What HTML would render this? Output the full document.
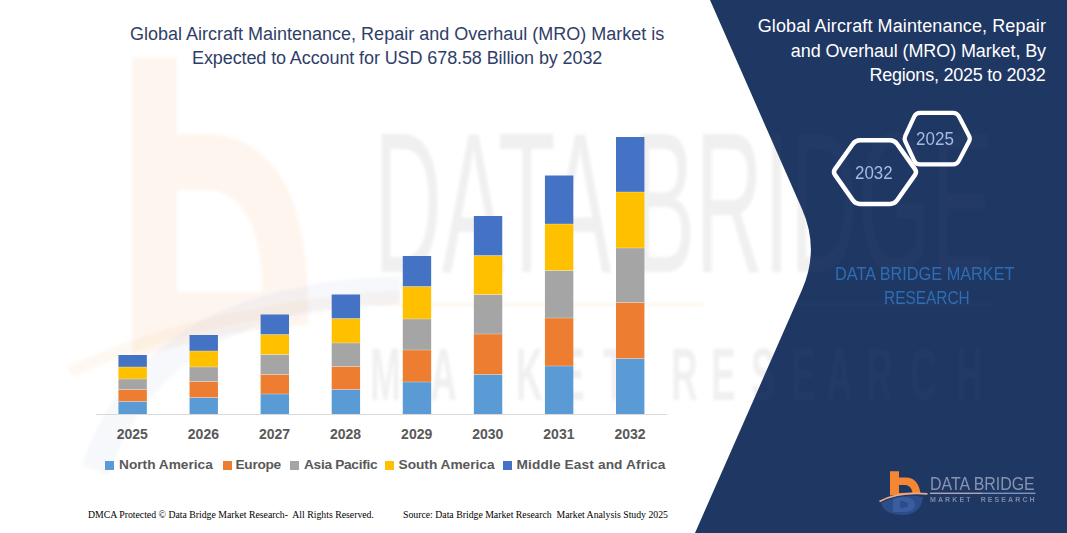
<!DOCTYPE html>
<html><head><meta charset="utf-8">
<style>
html,body{margin:0;padding:0;}
body{width:1067px;height:533px;position:relative;overflow:hidden;background:#fff;font-family:"Liberation Sans",sans-serif;}
.t{position:absolute;white-space:nowrap;line-height:1;}
svg{position:absolute;left:0;top:0;}
.yr{width:80px;text-align:center;font-size:14px;font-weight:bold;color:#595959;}
.lg{font-size:13.7px;font-weight:bold;color:#595959;}
</style></head><body>
<svg width="1067" height="533" viewBox="0 0 1067 533">
  <!-- watermark -->
  <defs><filter id="bl" x="-5%" y="-5%" width="110%" height="110%"><feGaussianBlur stdDeviation="1.5"/></filter></defs>
  <g filter="url(#bl)">
    <path d="M132 58 L177 58 L177 134 L212 134 Q298 142 307 275 L309 325 Q220 330 132 360 Z M177 190 L212 190 Q256 198 262 275 L262 292 L177 292 Z" fill="#ED7D31" fill-opacity="0.068" fill-rule="evenodd"/>
    <path d="M95 470 Q140 340 280 305 Q340 292 400 290" fill="none" stroke="#4472C4" stroke-opacity="0.05" stroke-width="28"/>
    <path d="M70 372 Q200 310 400 296" fill="none" stroke="#ED7D31" stroke-opacity="0.05" stroke-width="12"/>
    <rect x="374" y="303" width="330" height="3" fill="#ED7D31" fill-opacity="0.07"/>
    <text x="374" y="272" font-family="Liberation Sans" font-size="201" textLength="620" lengthAdjust="spacingAndGlyphs" fill="#000" fill-opacity="0.058">DATA BRIDGE</text>
    <text transform="scale(0.5 1)" x="740 860 948 1032 1120 1206 1342 1422 1502 1582 1652 1732 1820 1912" y="400" font-family="Liberation Sans" font-weight="bold" font-size="74" fill="#000" fill-opacity="0.06">MARKETRESEARCH</text>
  </g>
  <!-- navy panel -->
  <path d="M710 0 L1067 0 L1067 533 L695 533 L801.9 290 Q819.8 249.4 802 209 Z" fill="#1F3763"/>

  <!-- navy watermark overlay -->
  <clipPath id="pc"><path d="M710 0 L1067 0 L1067 533 L695 533 L801.9 290 Q819.8 249.4 802 209 Z"/></clipPath>
  <g clip-path="url(#pc)" filter="url(#bl)">
    <text x="374" y="272" font-family="Liberation Sans" font-size="201" textLength="620" lengthAdjust="spacingAndGlyphs" fill="#fff" fill-opacity="0.02">DATA BRIDGE</text>
    <text transform="scale(0.5 1)" x="740 860 948 1032 1120 1206 1342 1422 1502 1582 1652 1732 1820 1912" y="400" font-family="Liberation Sans" font-weight="bold" font-size="74" fill="#fff" fill-opacity="0.02">MARKETRESEARCH</text>
    <rect x="700" y="303" width="294" height="3" fill="#fff" fill-opacity="0.02"/>
  </g>
  <!-- axis -->
  <rect x="96" y="414" width="571" height="1" fill="#D9D9D9"/>
  <!-- bars -->
  <g id="bars">
<rect x="118.45" y="401.5" width="28.4" height="12.5" fill="#5B9BD5"/>
<rect x="118.45" y="389.5" width="28.4" height="12.0" fill="#ED7D31"/>
<rect x="118.45" y="379.0" width="28.4" height="10.5" fill="#A5A5A5"/>
<rect x="118.45" y="367.0" width="28.4" height="12.0" fill="#FFC000"/>
<rect x="118.45" y="355.0" width="28.4" height="12.0" fill="#4472C4"/>
<rect x="189.53" y="397.5" width="28.4" height="16.5" fill="#5B9BD5"/>
<rect x="189.53" y="381.5" width="28.4" height="16.0" fill="#ED7D31"/>
<rect x="189.53" y="367.0" width="28.4" height="14.5" fill="#A5A5A5"/>
<rect x="189.53" y="351.0" width="28.4" height="16.0" fill="#FFC000"/>
<rect x="189.53" y="335.0" width="28.4" height="16.0" fill="#4472C4"/>
<rect x="260.61" y="394.0" width="28.4" height="20.0" fill="#5B9BD5"/>
<rect x="260.61" y="374.5" width="28.4" height="19.5" fill="#ED7D31"/>
<rect x="260.61" y="354.5" width="28.4" height="20.0" fill="#A5A5A5"/>
<rect x="260.61" y="334.5" width="28.4" height="20.0" fill="#FFC000"/>
<rect x="260.61" y="314.5" width="28.4" height="20.0" fill="#4472C4"/>
<rect x="331.69" y="389.5" width="28.4" height="24.5" fill="#5B9BD5"/>
<rect x="331.69" y="366.5" width="28.4" height="23.0" fill="#ED7D31"/>
<rect x="331.69" y="343.0" width="28.4" height="23.5" fill="#A5A5A5"/>
<rect x="331.69" y="318.5" width="28.4" height="24.5" fill="#FFC000"/>
<rect x="331.69" y="294.5" width="28.4" height="24.0" fill="#4472C4"/>
<rect x="402.77" y="382.0" width="28.4" height="32.0" fill="#5B9BD5"/>
<rect x="402.77" y="350.0" width="28.4" height="32.0" fill="#ED7D31"/>
<rect x="402.77" y="319.0" width="28.4" height="31.0" fill="#A5A5A5"/>
<rect x="402.77" y="286.5" width="28.4" height="32.5" fill="#FFC000"/>
<rect x="402.77" y="256.0" width="28.4" height="30.5" fill="#4472C4"/>
<rect x="473.85" y="374.5" width="28.4" height="39.5" fill="#5B9BD5"/>
<rect x="473.85" y="334.0" width="28.4" height="40.5" fill="#ED7D31"/>
<rect x="473.85" y="294.5" width="28.4" height="39.5" fill="#A5A5A5"/>
<rect x="473.85" y="255.5" width="28.4" height="39.0" fill="#FFC000"/>
<rect x="473.85" y="216.0" width="28.4" height="39.5" fill="#4472C4"/>
<rect x="544.93" y="366.0" width="28.4" height="48.0" fill="#5B9BD5"/>
<rect x="544.93" y="318.0" width="28.4" height="48.0" fill="#ED7D31"/>
<rect x="544.93" y="270.5" width="28.4" height="47.5" fill="#A5A5A5"/>
<rect x="544.93" y="224.0" width="28.4" height="46.5" fill="#FFC000"/>
<rect x="544.93" y="175.5" width="28.4" height="48.5" fill="#4472C4"/>
<rect x="616.01" y="358.5" width="28.4" height="55.5" fill="#5B9BD5"/>
<rect x="616.01" y="302.5" width="28.4" height="56.0" fill="#ED7D31"/>
<rect x="616.01" y="248.0" width="28.4" height="54.5" fill="#A5A5A5"/>
<rect x="616.01" y="192.0" width="28.4" height="56.0" fill="#FFC000"/>
<rect x="616.01" y="137.0" width="28.4" height="55.0" fill="#4472C4"/>
<rect x="118.45" y="401.0" width="28.4" height="1" fill="#fff" fill-opacity="0.3"/>
<rect x="118.45" y="389.0" width="28.4" height="1" fill="#fff" fill-opacity="0.3"/>
<rect x="118.45" y="378.5" width="28.4" height="1" fill="#fff" fill-opacity="0.3"/>
<rect x="118.45" y="366.5" width="28.4" height="1" fill="#fff" fill-opacity="0.3"/>
<rect x="189.53" y="397.0" width="28.4" height="1" fill="#fff" fill-opacity="0.3"/>
<rect x="189.53" y="381.0" width="28.4" height="1" fill="#fff" fill-opacity="0.3"/>
<rect x="189.53" y="366.5" width="28.4" height="1" fill="#fff" fill-opacity="0.3"/>
<rect x="189.53" y="350.5" width="28.4" height="1" fill="#fff" fill-opacity="0.3"/>
<rect x="260.61" y="393.5" width="28.4" height="1" fill="#fff" fill-opacity="0.3"/>
<rect x="260.61" y="374.0" width="28.4" height="1" fill="#fff" fill-opacity="0.3"/>
<rect x="260.61" y="354.0" width="28.4" height="1" fill="#fff" fill-opacity="0.3"/>
<rect x="260.61" y="334.0" width="28.4" height="1" fill="#fff" fill-opacity="0.3"/>
<rect x="331.69" y="389.0" width="28.4" height="1" fill="#fff" fill-opacity="0.3"/>
<rect x="331.69" y="366.0" width="28.4" height="1" fill="#fff" fill-opacity="0.3"/>
<rect x="331.69" y="342.5" width="28.4" height="1" fill="#fff" fill-opacity="0.3"/>
<rect x="331.69" y="318.0" width="28.4" height="1" fill="#fff" fill-opacity="0.3"/>
<rect x="402.77" y="381.5" width="28.4" height="1" fill="#fff" fill-opacity="0.3"/>
<rect x="402.77" y="349.5" width="28.4" height="1" fill="#fff" fill-opacity="0.3"/>
<rect x="402.77" y="318.5" width="28.4" height="1" fill="#fff" fill-opacity="0.3"/>
<rect x="402.77" y="286.0" width="28.4" height="1" fill="#fff" fill-opacity="0.3"/>
<rect x="473.85" y="374.0" width="28.4" height="1" fill="#fff" fill-opacity="0.3"/>
<rect x="473.85" y="333.5" width="28.4" height="1" fill="#fff" fill-opacity="0.3"/>
<rect x="473.85" y="294.0" width="28.4" height="1" fill="#fff" fill-opacity="0.3"/>
<rect x="473.85" y="255.0" width="28.4" height="1" fill="#fff" fill-opacity="0.3"/>
<rect x="544.93" y="365.5" width="28.4" height="1" fill="#fff" fill-opacity="0.3"/>
<rect x="544.93" y="317.5" width="28.4" height="1" fill="#fff" fill-opacity="0.3"/>
<rect x="544.93" y="270.0" width="28.4" height="1" fill="#fff" fill-opacity="0.3"/>
<rect x="544.93" y="223.5" width="28.4" height="1" fill="#fff" fill-opacity="0.3"/>
<rect x="616.01" y="358.0" width="28.4" height="1" fill="#fff" fill-opacity="0.3"/>
<rect x="616.01" y="302.0" width="28.4" height="1" fill="#fff" fill-opacity="0.3"/>
<rect x="616.01" y="247.5" width="28.4" height="1" fill="#fff" fill-opacity="0.3"/>
<rect x="616.01" y="191.5" width="28.4" height="1" fill="#fff" fill-opacity="0.3"/>

</g>
  
  <!-- small logo -->
  <g id="logo">
    <path d="M881 503 Q884 515 903 515 Q921 514.5 923 497 Q902 493 881 503 Z" fill="#2D4F8E" opacity="0.9"/>
    <path d="M893 499 L900 497 L900 512 L893 512 Z M900 497 Q915 496 915 505 Q915 512 902 512 L900 512 L900 508 Q908 508 908 504.5 Q908 501 900 501 Z" fill="#4570B5" opacity="0.5"/>
    <path d="M890 471.3 L899 471.3 L899 477.5 L906 477.5 Q918 477.5 920.5 493.5 L890 495.5 Z M899 485 L899 493 L912.5 492.5 Q911 485 905 485 Z" fill="#F58634" fill-rule="evenodd"/>
    <path d="M879.5 501.5 Q898 491.5 927.5 493.8" fill="none" stroke="#E9A88A" stroke-width="1.8"/>
    <rect x="930" y="492.6" width="52" height="1.4" fill="#B7A3B5"/>
    <rect x="982" y="492.6" width="53.5" height="1.4" fill="#7F93BE"/>
  </g>
  <!-- hexagons -->
  <path id="hexbig" d="M835.03 169.15 L852.90 143.97 Q855.50 140.30 860.00 140.30 L890.00 140.30 Q894.50 140.30 897.10 143.97 L914.97 169.15 Q917.00 172.00 914.99 174.86 L897.09 200.32 Q894.50 204.00 890.00 204.00 L860.00 204.00 Q855.50 204.00 852.91 200.32 L835.01 174.86 Q833.00 172.00 835.03 169.15 Z" fill="none" stroke="#fff" stroke-width="4.5" stroke-linejoin="round"/>
  <path id="hexsmall" d="M905.27 135.88 L914.31 116.43 Q916.00 112.80 920.00 112.80 L953.00 112.80 Q957.00 112.80 958.85 116.34 L969.11 135.94 Q970.50 138.60 969.11 141.26 L958.85 160.86 Q957.00 164.40 953.00 164.40 L920.00 164.40 Q916.00 164.40 914.31 160.77 L905.27 141.32 Q904.00 138.60 905.27 135.88 Z" fill="none" stroke="#fff" stroke-width="4.2" stroke-linejoin="round"/>
</svg>
<div class="t" id="title1" style="left:130px;top:25px;font-size:18px;color:#2F4068;">Global Aircraft Maintenance, Repair and Overhaul (MRO) Market is</div>
<div class="t" id="title2" style="left:192px;top:49px;font-size:18px;letter-spacing:-0.1px;color:#2F4068;">Expected to Account for USD 678.58 Billion by 2032</div>
<div class="t" id="rt1" style="right:21px;top:17.3px;font-size:18px;letter-spacing:0.12px;color:#fff;">Global Aircraft Maintenance, Repair</div>
<div class="t" id="rt2" style="right:21px;top:41.8px;font-size:18px;letter-spacing:-0.1px;color:#fff;">and Overhaul (MRO) Market, By</div>
<div class="t" id="rt3" style="right:21.5px;top:66px;font-size:18px;letter-spacing:-0.25px;color:#fff;">Regions, 2025 to 2032</div>
<div class="t" id="hx1" style="left:854.6px;top:163px;font-size:19px;transform:scaleX(0.89);transform-origin:0 0;color:#A3BCE4;">2032</div>
<div class="t" id="hx2" style="left:916.4px;top:130.4px;font-size:18.5px;transform:scaleX(0.92);transform-origin:0 0;color:#A3BCE4;">2025</div>
<div class="t" id="dbm1" style="left:835.4px;top:265px;font-size:18px;transform:scaleX(0.905);transform-origin:0 0;color:#2E6DB4;">DATA BRIDGE MARKET</div>
<div class="t" id="dbm2" style="left:884px;top:288.8px;font-size:18px;transform:scaleX(0.857);transform-origin:0 0;color:#2E6DB4;">RESEARCH</div>
<div class="t yr" style="left:92.3px;top:427px;">2025</div>
<div class="t yr" style="left:163.4px;top:427px;">2026</div>
<div class="t yr" style="left:234.5px;top:427px;">2027</div>
<div class="t yr" style="left:305.6px;top:427px;">2028</div>
<div class="t yr" style="left:376.7px;top:427px;">2029</div>
<div class="t yr" style="left:447.8px;top:427px;">2030</div>
<div class="t yr" style="left:518.9px;top:427px;">2031</div>
<div class="t yr" style="left:590.0px;top:427px;">2032</div>
<div style="position:absolute;left:105px;top:461px;width:9px;height:9px;background:#5B9BD5;"></div>
<div class="t lg" style="left:119px;top:457.5px;">North America</div>
<div style="position:absolute;left:223px;top:461px;width:9px;height:9px;background:#ED7D31;"></div>
<div class="t lg" style="left:235.5px;top:457.5px;letter-spacing:-0.3px;">Europe</div>
<div style="position:absolute;left:290px;top:461px;width:9px;height:9px;background:#A5A5A5;"></div>
<div class="t lg" style="left:304px;top:457.5px;letter-spacing:-0.3px;">Asia Pacific</div>
<div style="position:absolute;left:385px;top:461px;width:9px;height:9px;background:#FFC000;"></div>
<div class="t lg" style="left:398.5px;top:457.5px;">South America</div>
<div style="position:absolute;left:503px;top:461px;width:9px;height:9px;background:#4472C4;"></div>
<div class="t lg" style="left:516.6px;top:457.5px;letter-spacing:0.12px;">Middle East and Africa</div>
<div class="t" id="lg1" style="left:930px;top:475px;font-size:18px;transform:scaleX(0.885);transform-origin:0 0;color:#8793B0;">DATA BRIDGE</div>
<div class="t" id="lg2" style="left:930px;top:496px;font-size:7px;font-weight:bold;letter-spacing:2.1px;color:#7D89A8;">MARKET&nbsp; RESEARCH</div>
<div class="t" id="f1" style="left:88px;top:509.5px;font-family:'Liberation Serif',serif;font-size:9.78px;color:#000;">DMCA Protected © Data Bridge Market Research-&nbsp; All Rights Reserved.</div>
<div class="t" id="f2" style="left:403px;top:509.5px;font-family:'Liberation Serif',serif;font-size:9.78px;color:#000;">Source: Data Bridge Market Research&nbsp; Market Analysis Study 2025</div>
</body></html>
